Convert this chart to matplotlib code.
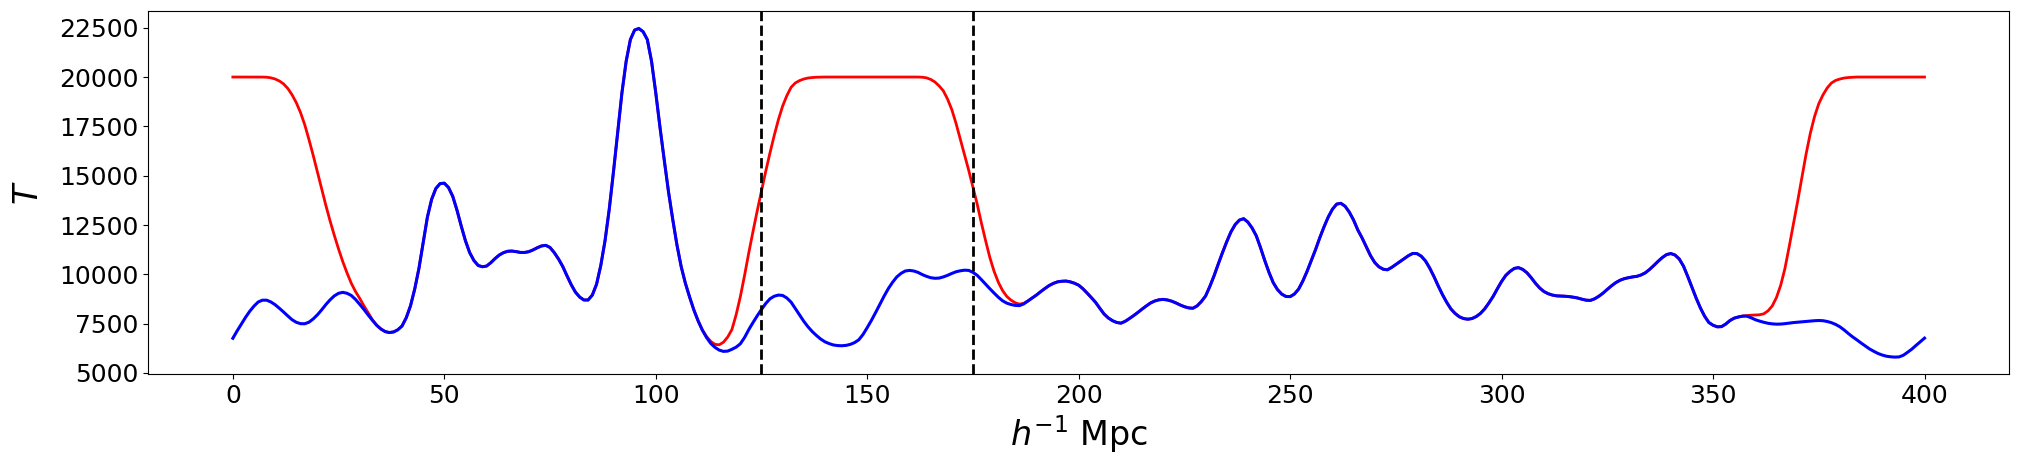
import matplotlib
matplotlib.use("Agg")
import matplotlib.pyplot as plt
from matplotlib.ticker import MultipleLocator

# positions along the line of sight (h^-1 Mpc)
x_mpc = list(range(0, 401))

# original temperature (blue), one value per h^-1 Mpc
T_orig = [
    6760, 7130, 7480, 7820, 8130, 8390, 8600, 8690, 8690, 8600,      # 0
    8460, 8280, 8090, 7890, 7700, 7570, 7500, 7495, 7575, 7740,      # 10
    7950, 8200, 8470, 8710, 8910, 9040, 9087, 9040, 8930, 8730,      # 20
    8480, 8220, 7940, 7670, 7420, 7230, 7100, 7050, 7080, 7190,      # 30
    7380, 7800, 8400, 9250, 10300, 11600, 12900, 13800, 14350, 14600,  # 40
    14620, 14400, 13950, 13250, 12450, 11700, 11100, 10700, 10450, 10385,  # 50
    10420, 10590, 10800, 10980, 11100, 11170, 11180, 11150, 11110, 11110,  # 60
    11150, 11240, 11350, 11440, 11470, 11360, 11100, 10780, 10400, 9930,  # 70
    9480, 9100, 8850, 8700, 8700, 8950, 9500, 10450, 11700, 13300,   # 80
    15200, 17200, 19200, 20800, 21900, 22380, 22460, 22300, 21900, 20800,  # 90
    19200, 17450, 15800, 14200, 12800, 11500, 10400, 9550, 8850, 8200,  # 100
    7650, 7180, 6800, 6500, 6300, 6160, 6095, 6110, 6200, 6310,      # 110
    6480, 6800, 7200, 7560, 7900, 8220, 8520, 8760, 8890, 8950,      # 120
    8930, 8800, 8590, 8270, 7940, 7620, 7340, 7100, 6900, 6720,      # 130
    6580, 6490, 6420, 6390, 6380, 6400, 6450, 6540, 6680, 6950,      # 140
    7300, 7670, 8070, 8490, 8900, 9280, 9600, 9870, 10050, 10170,    # 150
    10200, 10170, 10100, 9990, 9900, 9830, 9800, 9810, 9870, 9950,   # 160
    10046, 10130, 10180, 10210, 10200, 10100, 9950, 9730, 9500, 9270,  # 170
    9050, 8840, 8660, 8540, 8470, 8425, 8415, 8500, 8650, 8800,      # 180
    8950, 9120, 9280, 9430, 9540, 9620, 9650, 9660, 9620, 9550,      # 190
    9450, 9270, 9050, 8820, 8580, 8280, 7990, 7790, 7650, 7560,      # 200
    7525, 7620, 7760, 7910, 8070, 8240, 8400, 8550, 8650, 8710,      # 210
    8730, 8700, 8640, 8550, 8448, 8360, 8300, 8280, 8400, 8620,      # 220
    8900, 9380, 9920, 10520, 11100, 11650, 12150, 12520, 12750, 12820,  # 230
    12650, 12350, 11950, 11350, 10700, 10100, 9580, 9230, 9000, 8880,  # 240
    8870, 9000, 9250, 9660, 10150, 10700, 11250, 11850, 12400, 12900,  # 250
    13300, 13560, 13600, 13450, 13150, 12750, 12250, 11850, 11400, 10950,  # 260
    10600, 10380, 10260, 10230, 10350, 10500, 10650, 10800, 10950, 11060,  # 270
    11050, 10920, 10680, 10320, 9890, 9420, 8980, 8590, 8250, 8020,  # 280
    7850, 7760, 7725, 7760, 7860, 8020, 8250, 8550, 8880, 9270,      # 290
    9640, 9950, 10150, 10300, 10340, 10250, 10080, 9830, 9550, 9310,  # 300
    9130, 9020, 8950, 8910, 8900, 8890, 8870, 8840, 8800, 8740,      # 310
    8690, 8680, 8760, 8890, 9050, 9240, 9420, 9580, 9700, 9780,      # 320
    9830, 9870, 9900, 9970, 10080, 10250, 10450, 10660, 10850, 11000,  # 330
    11055, 10980, 10780, 10420, 9900, 9350, 8800, 8300, 7880, 7560,  # 340
    7420, 7340, 7350, 7480, 7660, 7780, 7840, 7880, 7880, 7800,      # 350
    7700, 7630, 7570, 7520, 7490, 7475, 7480, 7500, 7530, 7555,      # 360
    7574, 7590, 7610, 7630, 7650, 7660, 7650, 7610, 7550, 7460,      # 370
    7340, 7180, 7000, 6830, 6680, 6520, 6370, 6220, 6100, 5990,      # 380
    5910, 5850, 5820, 5805, 5815, 5900, 6050, 6210, 6400, 6580,      # 390
    6766,                                                            # 400
]

# heated segments of the red curve (elsewhere red follows the blue curve)
heat1_start = 0
heat1_T = [
    20000, 20000, 20000, 20000, 20000, 20000, 20000, 19998, 19990, 19960,
    19900, 19800, 19650, 19420, 19100, 18700, 18200, 17580, 16830, 16030,
    15180, 14320, 13490, 12700, 11970, 11280, 10640, 10070, 9550, 9130,
    8780, 8400, 8050, 7700,
]
heat2_start = 112
heat2_T = [
    6850, 6600, 6450, 6430, 6560, 6820, 7200, 7950,                  # 112
    8870, 9950, 11100, 12180, 13230, 14230, 15220, 16150, 17030, 17840,  # 120
    18530, 19060, 19480, 19700, 19820, 19900, 19950, 19975, 19990, 19996,  # 130
    20000, 20000, 20000, 20000, 20000, 20000, 20000, 20000, 20000, 20000,  # 140
    20000, 20000, 20000, 20000, 20000, 20000, 20000, 20000, 20000, 20000,  # 150
    20000, 20000, 20000, 19990, 19960, 19880, 19750, 19550, 19300, 18880,  # 160
    18350, 17650, 16850, 16060, 15270, 14420, 13560, 12600, 11700, 10850,  # 170
    10150, 9600, 9180, 8880, 8690, 8560, 8490, 8530,                 # 180
]
heat3_start = 357
heat3_T = [
    7890, 7910, 7930,                                                # 357
    7940, 7950, 8000, 8150, 8400, 8830, 9450, 10300, 11400, 12550,   # 360
    13700, 14900, 16100, 17150, 18000, 18650, 19100, 19450, 19700, 19830,  # 370
    19900, 19950, 19975, 19990, 20000, 20000, 20000, 20000, 20000, 20000,  # 380
    20000, 20000, 20000, 20000, 20000, 20000, 20000, 20000, 20000, 20000,  # 390
    20000,                                                           # 400
]

# boundaries of the marked region
vlines_x = [125, 175]

T_heated = list(T_orig)
for start, seg in ((heat1_start, heat1_T), (heat2_start, heat2_T), (heat3_start, heat3_T)):
    T_heated[start:start + len(seg)] = seg

fig = plt.figure(figsize=(20.2, 4.72), dpi=100)
ax = fig.add_axes([0.0734, 0.207, 0.9212, 0.769])

ax.plot(x_mpc, T_heated, color="red", lw=2.0)
ax.plot(x_mpc, T_orig, color="blue", lw=2.2)
for xv in vlines_x:
    ax.axvline(xv, color="black", ls="--", lw=2.0)

ax.set_xlim(-20, 420)
ax.set_ylim(4934, 23330)
ax.xaxis.set_major_locator(MultipleLocator(50))
ax.yaxis.set_major_locator(MultipleLocator(2500))
ax.tick_params(labelsize=18)
ax.set_xlabel(r"$h^{-1}$ Mpc", fontsize=24)
ax.set_ylabel(r"$T$", fontsize=24, labelpad=10)

fig.savefig("out.png", dpi=100)
